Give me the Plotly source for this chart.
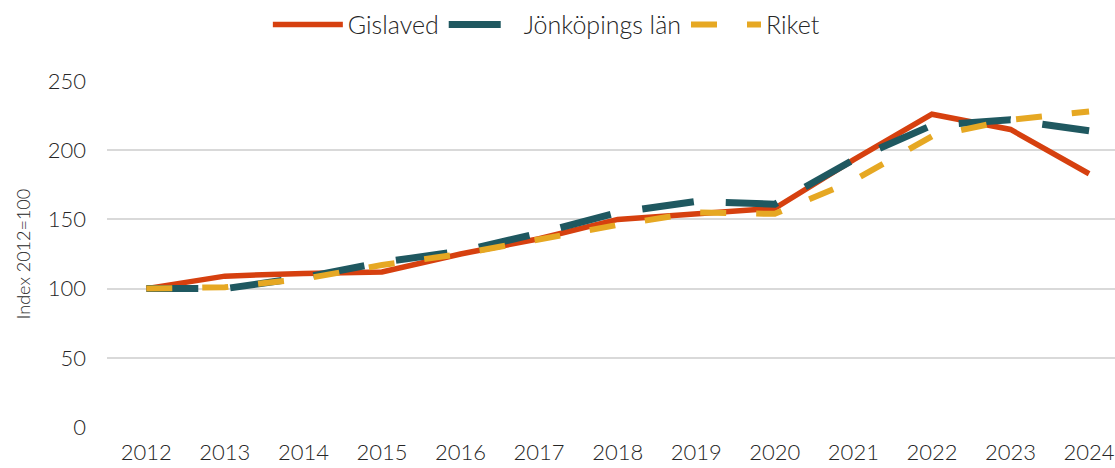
import plotly.graph_objects as go

years = [2012, 2013, 2014, 2015, 2016, 2017, 2018, 2019, 2020, 2021, 2022, 2023, 2024]
gislaved = [100, 109, 111, 112, 125, 136, 150, 154, 158, 193, 226, 215, 183]
jonkoping = [100, 100, 108, 119, 127, 140, 155, 163, 161, 193, 218, 222, 214]
riket = [100, 101, 107, 117, 125, 136, 146, 155, 154, 178, 210, 222, 228]
yticks = [0, 50, 100, 150, 200, 250]

font_family = "Lato, 'Open Sans', sans-serif"
txt = "#262626"

fig = go.Figure()
fig.add_trace(go.Scatter(x=years, y=gislaved, name="Gislaved", mode="lines",
                         line=dict(color="#D6400F", width=5.5)))
fig.add_trace(go.Scatter(x=years, y=jonkoping, name="Jönköpings län", mode="lines",
                         line=dict(color="#1F5860", width=7, dash="52px,32px")))
fig.add_trace(go.Scatter(x=years, y=riket, name="Riket", mode="lines",
                         line=dict(color="#E6A823", width=6, dash="26px,30px")))

fig.update_layout(
    width=1115, height=468,
    margin=dict(l=107, r=0, t=81, b=41, autoexpand=False),
    paper_bgcolor="white", plot_bgcolor="white",
    font=dict(family=font_family, size=22, color=txt, weight=300),
    showlegend=True,
    legend=dict(orientation="h", xref="container", yref="container",
                x=0.49, xanchor="center", y=0.947, yanchor="middle",
                font=dict(size=25, color=txt, weight=300), itemwidth=70,
                bgcolor="rgba(0,0,0,0)"),
    xaxis=dict(range=[2011.5, 2024.33], tickmode="array", tickvals=years,
               ticktext=[str(y) for y in years], showgrid=False, zeroline=False,
               showline=False, ticks="", automargin=False, ticklabeloverflow="allow",
               ticklabelstandoff=10,
               tickfont=dict(size=22, color=txt, weight=300)),
    yaxis=dict(range=[0, 250], tickvals=yticks, showgrid=True, gridcolor="#D9D9D9",
               gridwidth=2, zeroline=False, showline=False, ticks="", automargin=False,
               ticklabelstandoff=20,
               tickfont=dict(size=22, color=txt, weight=300),
               title=dict(text="Index 2012=100", font=dict(size=18, color=txt, weight=300),
                          standoff=12)),
)
fig.write_html("out.html", config={"displayModeBar": False},
               post_script="document.body.style.margin='0';")
